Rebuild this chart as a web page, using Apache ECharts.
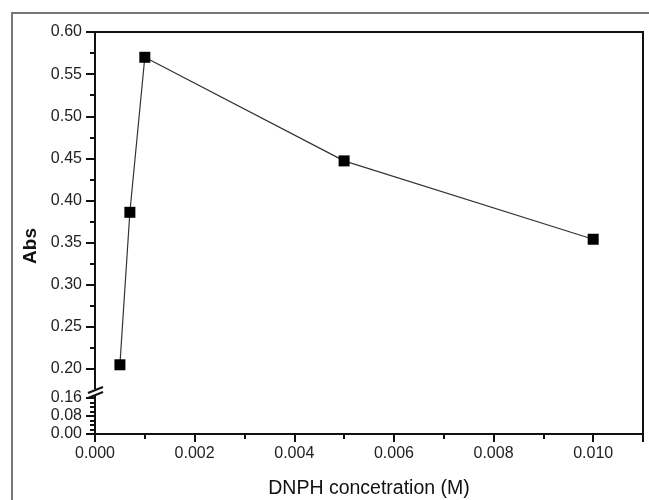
<!DOCTYPE html>
<html>
<head>
<meta charset="utf-8">
<script src="https://cdn.jsdelivr.net/npm/echarts@6/dist/echarts.min.js"></script>
<style>
html,body{margin:0;padding:0;background:#fff;}
#chart{width:649px;height:500px;}
</style>
</head>
<body>
<div id="chart"></div>
<script>
// Data
const concentrations = [0.0005, 0.0007, 0.001, 0.005, 0.010];
const absValues = [0.205, 0.386, 0.570, 0.447, 0.354];
const xTitle = 'DNPH concetration (M)';
const yTitle = 'Abs';

const FONT = 'Liberation Sans, Arial, sans-serif';
const labelStyle = {fontFamily: FONT, fontSize: 16, color: '#222'};

const chart = echarts.init(document.getElementById('chart'), null, {renderer: 'canvas'});

const option = {
  animation: false,
  backgroundColor: '#fff',
  grid: [
    {left: 95, right: 6, top: 32, bottom: 66, show: true, borderColor: '#111', borderWidth: 2, backgroundColor: 'transparent'},
    {left: 95, right: 6, top: 32, height: 337},
    {left: 95, right: 6, top: 398, bottom: 66}
  ],
  xAxis: [
    {gridIndex: 0, type: 'value', min: 0, max: 0.011, show: false},
    {gridIndex: 1, type: 'value', min: 0, max: 0.011, show: false},
    {gridIndex: 2, type: 'value', min: 0, max: 0.011, interval: 0.002,
      axisLine: {show: true, lineStyle: {color: '#111', width: 2}},
      axisTick: {show: true, inside: false, length: 8, lineStyle: {color: '#111', width: 2}},
      minorTick: {show: true, splitNumber: 2, length: 5, lineStyle: {color: '#111', width: 2}},
      splitLine: {show: false},
      axisLabel: Object.assign({margin: 12, showMaxLabel: false, formatter: v => v.toFixed(3)}, labelStyle),
      name: xTitle, nameLocation: 'middle', nameGap: 45,
      nameTextStyle: {fontFamily: FONT, fontSize: 19.5, color: '#111'}
    }
  ],
  yAxis: [
    {gridIndex: 0, type: 'value', min: 0, max: 1, show: false},
    {gridIndex: 1, type: 'value', min: 0.2, max: 0.6, interval: 0.05,
      axisLine: {show: false},
      axisTick: {show: true, inside: false, length: 9, lineStyle: {color: '#111', width: 2}},
      minorTick: {show: true, splitNumber: 2, length: 5, lineStyle: {color: '#111', width: 2}},
      splitLine: {show: false},
      axisLabel: Object.assign({margin: 13, formatter: v => v.toFixed(2)}, labelStyle)
    },
    {gridIndex: 2, type: 'value', min: 0, max: 0.16, interval: 0.08,
      axisLine: {show: false},
      axisTick: {show: true, inside: false, length: 9, lineStyle: {color: '#111', width: 2}},
      minorTick: {show: true, splitNumber: 4, length: 5, lineStyle: {color: '#111', width: 2}},
      splitLine: {show: false},
      axisLabel: Object.assign({margin: 13, formatter: v => v.toFixed(2)}, labelStyle)
    }
  ],
  series: [{
    type: 'line',
    xAxisIndex: 1, yAxisIndex: 1,
    data: concentrations.map((x, i) => [x, absValues[i]]),
    symbol: 'rect', symbolSize: 11,
    itemStyle: {color: '#000'},
    lineStyle: {color: '#333', width: 1.2},
    z: 5
  }],
  graphic: [
    {type: 'polyline', shape: {points: [[12, 500], [12, 13], [649, 13]]}, style: {stroke: '#777', lineWidth: 2, fill: null}, silent: true},
    {type: 'rect', shape: {x: 92, y: 389, width: 6, height: 7}, style: {fill: '#fff'}, z: 100, silent: true},
    {type: 'line', shape: {x1: 88, y1: 393, x2: 103, y2: 387}, style: {stroke: '#111', lineWidth: 2}, z: 101, silent: true},
    {type: 'line', shape: {x1: 88, y1: 398, x2: 103, y2: 392}, style: {stroke: '#111', lineWidth: 2}, z: 101, silent: true},
    {type: 'text', x: 31, y: 246, rotation: Math.PI / 2,
      style: {text: yTitle, font: 'bold 19px ' + FONT, fill: '#111', align: 'center', verticalAlign: 'middle'}, z: 100, silent: true}
  ]
};
chart.setOption(option);
</script>
</body>
</html>
